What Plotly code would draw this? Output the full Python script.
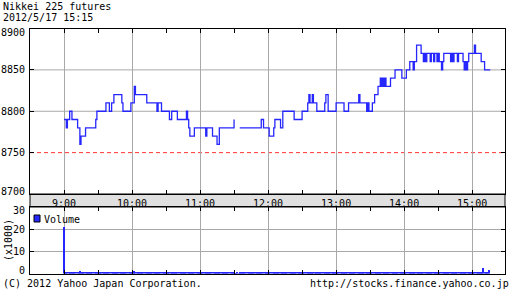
import plotly.graph_objects as go

DATE = "2012-05-17 "
title_lines = ["Nikkei 225 futures", "2012/5/17 15:15"]
footer_left = "(C) 2012 Yahoo Japan Corporation."
footer_right = "http://stocks.finance.yahoo.co.jp"

# price change points (time, price); None = no trade
price_times = [
    "09:00", "09:02", "09:03", "09:05", "09:07", "09:12", "09:14", "09:15", "09:19", "09:28",
    "09:29", "09:37", "09:40", "09:42", "09:44", "09:51", "09:52", "09:59", "10:02", "10:03",
    "10:13", "10:22", "10:23", "10:26", "10:33", "10:35", "10:40", "10:48", "10:49", "10:50",
    "10:51", "10:55", "11:05", "11:06", "11:11", "11:15", "11:17", "11:30", "11:31", "11:35",
    "11:54", "11:56", "12:01", "12:05", "12:06", "12:11", "12:13", "12:23", "12:30", "12:35",
    "12:36", "12:37", "12:39", "12:40", "12:43", "12:50", "12:51", "12:53", "13:00", "13:07",
    "13:11", "13:20", "13:21", "13:27", "13:28", "13:29", "13:32", "13:34", "13:37", "13:39",
    "13:40", "13:41", "13:42", "13:43", "13:44", "13:48", "13:52", "13:58", "14:02", "14:05",
    "14:08", "14:09", "14:11", "14:15", "14:17", "14:18", "14:19", "14:20", "14:23", "14:24",
    "14:26", "14:27", "14:29", "14:30", "14:31", "14:33", "14:34", "14:35", "14:41", "14:42",
    "14:43", "14:44", "14:47", "14:48", "14:52", "14:53", "14:54", "14:55", "14:56", "14:57",
    "15:02", "15:03", "15:08", "15:11", "15:16",
]
price_values = [
    8790, 8780, 8790, 8800, 8790, 8780, 8760, 8770, 8780, 8790,
    8800, 8810, 8800, 8810, 8820, 8810, 8800, 8810, 8830, 8820,
    8810, 8800, 8810, 8800, 8790, 8800, 8790, 8800, 8790, 8780,
    8770, 8780, 8770, 8780, 8770, 8760, 8780, 8790, None, 8780,
    8790, 8780, 8770, 8780, 8790, 8780, 8800, 8790, 8800, 8810,
    8820, 8810, 8820, 8810, 8800, 8810, 8820, 8800, 8810, 8800,
    8810, 8820, 8810, 8800, 8810, 8800, 8810, 8820, 8830, 8840,
    8830, 8840, 8830, 8840, 8830, 8840, 8850, 8840, 8850, 8860,
    8850, 8860, 8880, 8870, 8860, 8870, 8860, 8870, 8860, 8870,
    8860, 8870, 8860, 8870, 8860, 8850, 8860, 8870, 8860, 8870,
    8860, 8870, 8860, 8870, 8860, 8850, 8860, 8850, 8860, 8870,
    8880, 8870, 8860, 8850, 8850,
]

# per-minute volume (x1000), 09:00 .. 15:15
volume = [
    21.0, 0.9, 0.7, 0.8, 0.6, 0.9, 0.7, 0.5, 0.8, 0.6, 0.7, 0.5, 0.9, 0.6, 1.0, 0.7, 0.6, 0.5, 0.7, 0.6,
    0.5, 0.6, 0.4, 0.7, 0.5, 0.6, 0.8, 0.5, 0.6, 0.7, 0.5, 0.4, 0.6, 0.5, 0.7, 0.9, 0.6, 0.5, 0.4, 0.6,
    0.5, 0.7, 0.4, 0.5, 0.8, 0.6, 0.5, 0.4, 0.6, 0.5, 0.7, 0.5, 0.6, 0.4, 0.5, 0.6, 0.8, 0.5, 0.4, 0.6,
    0.9, 0.7, 1.1, 0.6, 0.5, 0.4, 0.6, 0.5, 0.4, 0.6, 0.3, 0.5, 0.4, 0.6, 0.5, 0.3, 0.4, 0.5, 0.6, 0.4,
    0.5, 0.4, 0.6, 0.3, 0.5, 0.4, 0.5, 0.6, 0.4, 0.3, 0.5, 0.6, 0.4, 0.5, 0.3, 0.4, 0.6, 0.5, 0.4, 0.5,
    0.4, 0.6, 0.5, 0.3, 0.4, 0.5, 0.7, 0.4, 0.8, 0.6, 0.9, 0.7, 0.6, 0.5, 0.4, 0.7, 0.5, 0.4, 0.6, 0.5,
    0.4, 0.5, 0.3, 0.6, 0.4, 0.7, 0.5, 0.4, 0.3, 0.5, 0.4, 0.6, 0.5, 0.3, 0.6, 0.8, 0.5, 0.7, 0.4, 0.5,
    0.3, 0.4, 0.5, 0.3, 0.4, 0.3, 0.5, 0.4, 0.3, 0.4, 0.5, 0.2, 0.2, 0.3, 0.2, 0.4, 0.3, 0.4, 0.5, 0.3,
    0.4, 0.3, 0.5, 0.4, 0.3, 0.4, 0.3, 0.5, 0.4, 0.3, 0.4, 0.5, 0.3, 0.4, 0.3, 0.5, 0.4, 0.3, 0.4, 0.3,
    0.5, 0.4, 0.6, 0.3, 0.4, 0.5, 0.4, 0.3, 0.5, 0.4, 0.3, 0.4, 0.6, 0.5, 0.4, 0.3, 0.5, 0.4, 0.6, 0.4,
    0.5, 0.4, 0.3, 0.5, 0.6, 0.4, 0.5, 0.3, 0.4, 0.5, 0.6, 0.4, 0.5, 0.7, 0.4, 0.6, 0.5, 0.4, 0.6, 0.5,
    0.4, 0.5, 0.6, 0.4, 0.5, 0.3, 0.4, 0.6, 0.5, 0.4, 0.5, 0.6, 0.4, 0.5, 0.3, 0.5, 0.4, 0.6, 0.4, 0.5,
    0.6, 0.4, 0.5, 0.7, 0.5, 0.6, 0.4, 0.5, 0.6, 0.5, 0.4, 0.6, 0.5, 0.7, 0.6, 0.5, 0.8, 0.6, 0.7, 0.5,
    0.6, 0.5, 0.7, 0.6, 0.8, 0.5, 0.6, 0.7, 0.5, 0.6, 0.4, 0.7, 0.6, 0.5, 0.6, 0.8, 0.7, 0.6, 0.5, 0.7,
    0.6, 0.7, 0.8, 0.6, 0.5, 0.7, 0.6, 0.8, 0.9, 0.7, 0.6, 0.5, 0.7, 0.6, 0.8, 0.7, 0.6, 0.5, 0.6, 0.7,
    0.9, 0.7, 0.6, 0.8, 0.7, 0.6, 0.5, 0.7, 0.8, 0.6, 0.7, 0.9, 0.6, 0.7, 0.5, 0.6, 0.8, 0.7, 0.6, 0.5,
    0.7, 0.6, 0.8, 0.5, 0.6, 0.7, 0.6, 0.9, 0.7, 0.6, 0.5, 0.7, 0.6, 0.8, 0.7, 0.6, 0.7, 0.5, 0.6, 0.8,
    0.7, 0.6, 0.8, 0.7, 0.9, 0.6, 0.7, 0.8, 0.6, 0.7, 0.5, 0.8, 0.7, 0.6, 0.9, 0.7, 0.8, 0.6, 0.7, 0.9,
    0.8, 0.7, 0.6, 0.9, 0.7, 0.8, 0.6, 0.7, 0.8, 0.9, 2.5, 0.7, 0.6, 0.8, 0.5, 1.4,
]

price_ticks = [8700, 8750, 8800, 8850, 8900]
price_grid = [8750, 8800, 8850]
vol_ticks = [0, 10, 20, 30]
hour_ticks = ["09:00", "10:00", "11:00", "12:00", "13:00", "14:00", "15:00"]
hour_labels = ["9:00", "10:00", "11:00", "12:00", "13:00", "14:00", "15:00"]
x_range = ["08:30", "15:29"]

W, H = 512, 301
FONT = "DejaVu Sans Mono"
BLUE = "#2626ff"
GRID = "#a8a8a8"

def px_x(p):
    return p / W

def px_y(p):
    return 1 - p / H

vol_times = []
h, m = 9, 0
for _ in volume:
    vol_times.append(DATE + f"{h:02d}:{m:02d}")
    m += 1
    if m == 60:
        h, m = h + 1, 0

xs = [DATE + t for t in price_times]
fig = go.Figure()
fig.add_trace(go.Scatter(x=xs, y=price_values, mode="lines", line=dict(color=BLUE, width=1.3, shape="hv"),
                         connectgaps=False, xaxis="x", yaxis="y", hoverinfo="skip"))
fig.add_trace(go.Bar(x=vol_times, y=volume, marker=dict(color=BLUE, line=dict(width=0)),
                     width=50000, xaxis="x2", yaxis="y2", hoverinfo="skip"))

xdom = [px_x(30), px_x(505)]
rng = [DATE + x_range[0], DATE + x_range[1]]
common_x = dict(range=rng, type="date", domain=xdom, tickvals=[DATE + t for t in hour_ticks],
                showgrid=True, gridcolor=GRID, gridwidth=1, showline=True, linecolor="black",
                linewidth=1, mirror="ticks", ticks="inside", ticklen=4, tickcolor="black",
                minor=dict(dtick=30 * 60 * 1000, ticks="inside", ticklen=4, tickcolor="black", showgrid=False),
                zeroline=False, fixedrange=True)
fig.update_layout(
    width=W, height=H, margin=dict(l=0, r=0, t=0, b=0),
    paper_bgcolor="white", plot_bgcolor="white", showlegend=False, bargap=0,
    font=dict(family=FONT, size=10, color="black"),
    xaxis=dict(**common_x, ticktext=hour_labels, showticklabels=True, anchor="y",
               tickfont=dict(family=FONT, size=10)),
    yaxis=dict(domain=[px_y(194), px_y(28.5)], range=[8700, 8900], tickvals=price_ticks,
               showticklabels=False,
               showgrid=False, showline=True, linecolor="black", linewidth=1, mirror="ticks",
               ticks="inside", ticklen=4, tickcolor="black", zeroline=False, anchor="x"),
    xaxis2=dict(**common_x, showticklabels=False, anchor="y2"),
    yaxis2=dict(domain=[px_y(273.5), px_y(207)], range=[0, 30], tickvals=vol_ticks,
                showticklabels=False,
                showgrid=True, gridcolor=GRID, showline=True, linecolor="black", linewidth=1,
                mirror="ticks", ticks="inside", ticklen=4, tickcolor="black", zeroline=False,
                anchor="x2"),
)

shapes = []
# gray band carrying the time labels
shapes.append(dict(type="rect", xref="paper", yref="paper", x0=xdom[0], x1=xdom[1],
                   y0=px_y(207), y1=px_y(194), fillcolor="#e0e0e0", line=dict(color="black", width=1),
                   layer="below"))
for g in price_grid:
    if g == 8750:
        ln = dict(color="#ff3333", width=1, dash="4px,3px")
    else:
        ln = dict(color=GRID, width=1)
    shapes.append(dict(type="line", xref="x domain", yref="y", x0=0, x1=1, y0=g, y1=g, line=ln, layer="below"))
# legend swatch
shapes.append(dict(type="rect", xref="paper", yref="paper", x0=px_x(34), x1=px_x(40), y0=px_y(222), y1=px_y(215),
                   fillcolor=BLUE, line=dict(color="black", width=1)))
fig.update_layout(shapes=shapes)

ann = [
    dict(text=title_lines[0], x=px_x(1), y=px_y(6), xanchor="left", yanchor="middle", xref="paper", yref="paper"),
    dict(text=title_lines[1], x=px_x(1), y=px_y(18), xanchor="left", yanchor="middle", xref="paper", yref="paper"),
    dict(text=footer_left, x=px_x(1), y=px_y(283), xanchor="left", yanchor="middle", xref="paper", yref="paper"),
    dict(text=footer_right, x=px_x(511), y=px_y(283), xanchor="right", yanchor="middle", xref="paper", yref="paper"),
    dict(text="Volume", x=px_x(42), y=px_y(219), xanchor="left", yanchor="middle", xref="paper", yref="paper"),
    dict(text="(x1000)", x=px_x(8), y=px_y(240), xanchor="center", yanchor="middle", textangle=-90,
         xref="paper", yref="paper"),
]
# y tick labels (end labels pulled inside the panel, as in the reference)
for v in price_ticks:
    shift = -4 if v == price_ticks[-1] else (3 if v == price_ticks[0] else 0)
    ann.append(dict(text=str(v), x=px_x(27), y=v, xref="paper", yref="y", xanchor="right",
                    yanchor="middle", yshift=shift))
for v in vol_ticks:
    shift = -3 if v == vol_ticks[-1] else (3 if v == vol_ticks[0] else 0)
    ann.append(dict(text=str(v), x=px_x(27), y=v, xref="paper", yref="y2", xanchor="right",
                    yanchor="middle", yshift=shift))
for a in ann:
    a.update(showarrow=False, font=dict(family=FONT, size=10, color="black"))
fig.update_layout(annotations=ann)

fig.write_html("out.html")
